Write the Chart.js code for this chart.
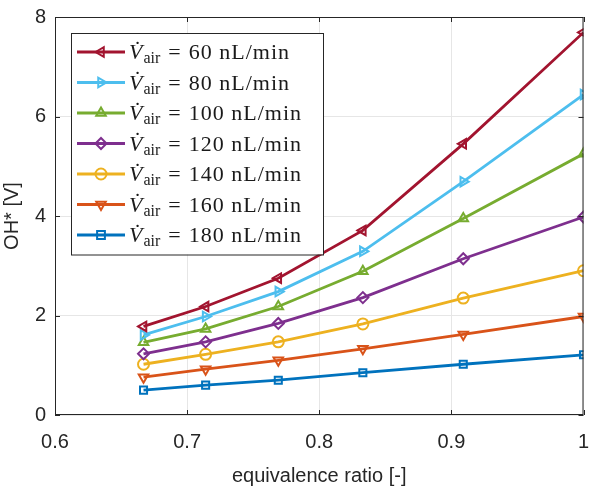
<!DOCTYPE html>
<html>
<head>
<meta charset="utf-8">
<script src="https://cdn.jsdelivr.net/npm/chart.js@4"></script>
<style>
  html, body { margin: 0; padding: 0; background: #fff; }
  #wrap { width: 591px; height: 488px; position: relative; }
</style>
</head>
<body>
<div id="wrap"><canvas id="chart"></canvas></div>
<script>
// equivalence ratio values
const ratios = [0.667, 0.714, 0.769, 0.833, 0.909, 1.0];

// air flow rates (nL/min) for the legend
const airFlows = [60, 80, 100, 120, 140, 160, 180];

// OH* signal [V] per air flow
const oh60  = [1.78, 2.18, 2.75, 3.71, 5.45, 7.69];
const oh80  = [1.61, 1.98, 2.48, 3.29, 4.69, 6.44];
const oh100 = [1.46, 1.73, 2.18, 2.89, 3.95, 5.25];
const oh120 = [1.23, 1.47, 1.84, 2.36, 3.14, 3.98];
const oh140 = [1.02, 1.22, 1.47, 1.83, 2.35, 2.90];
const oh160 = [0.76, 0.92, 1.10, 1.33, 1.62, 1.98];
const oh180 = [0.50, 0.60, 0.70, 0.85, 1.02, 1.21];

const xTicks = [0.6, 0.7, 0.8, 0.9, 1];
const yTicks = [0, 2, 4, 6, 8];

const allSeries = [oh60, oh80, oh100, oh120, oh140, oh160, oh180];

const colors = ["#A2142F", "#4DBEEE", "#77AC30", "#7E2F8E", "#EDB120", "#D95319", "#0072BD"];
const markers = [
    { style: "triangle", rot: -90 },
    { style: "triangle", rot: 90 },
    { style: "triangle", rot: 0 },
    { style: "rectRot", rot: 0 },
    { style: "circle", rot: 0 },
    { style: "triangle", rot: 180 },
    { style: "rect", rot: 0 }
];

const axisColor = "#262626";

const datasets = allSeries.map((vals, i) => ({
    label: airFlows[i] + " nL/min",
    data: vals.map((v, j) => ({ x: ratios[j], y: v })),
    borderColor: colors[i],
    backgroundColor: "transparent",
    borderWidth: 2.8,
    pointStyle: markers[i].style,
    rotation: markers[i].rot,
    pointRadius: markers[i].style === "rect" ? 5 : 5.5,
    pointBorderWidth: 2,
    pointBackgroundColor: "transparent",
    pointBorderColor: colors[i],
    tension: 0,
    order: i
}));

// axes box, inward ticks and latex-like legend
const matlabPlugin = {
    id: "matlab",
    afterDraw(chart) {
        const ctx = chart.ctx;
        const a = chart.chartArea;
        const xs = chart.scales.x;
        const ys = chart.scales.y;

        ctx.save();
        ctx.strokeStyle = axisColor;
        ctx.lineWidth = 1;
        ctx.strokeRect(a.left + 0.5, a.top + 0.5, a.right - a.left - 1, a.bottom - a.top - 1);

        const tl = 5;
        ctx.beginPath();
        xTicks.forEach(t => {
            const px = Math.round(xs.getPixelForValue(t)) + 0.5;
            ctx.moveTo(px, a.bottom); ctx.lineTo(px, a.bottom - tl);
            ctx.moveTo(px, a.top); ctx.lineTo(px, a.top + tl);
        });
        yTicks.forEach(t => {
            const py = Math.round(ys.getPixelForValue(t)) + 0.5;
            ctx.moveTo(a.left, py); ctx.lineTo(a.left + tl, py);
            ctx.moveTo(a.right, py); ctx.lineTo(a.right - tl, py);
        });
        ctx.stroke();

        // legend
        const bx = 71, by = 33, bw = 252, rowH = 30.5;
        const bh = rowH * airFlows.length + 8;
        ctx.fillStyle = "#fff";
        ctx.fillRect(bx, by, bw, bh);
        ctx.strokeStyle = axisColor;
        ctx.strokeRect(bx + 0.5, by + 0.5, bw, bh);

        airFlows.forEach((f, i) => {
            const cy = by + 19 + i * rowH;
            ctx.strokeStyle = colors[i];
            ctx.lineWidth = 2.8;
            ctx.beginPath();
            ctx.moveTo(77, cy); ctx.lineTo(125, cy);
            ctx.stroke();
            ctx.fillStyle = "transparent";
            ctx.lineWidth = 2;
            Chart.helpers.drawPoint(ctx, {
                pointStyle: markers[i].style,
                rotation: markers[i].rot,
                radius: 5.5,
                borderWidth: 2
            }, 101, cy);

            ctx.fillStyle = "#1a1a1a";
            ctx.textBaseline = "alphabetic";
            ctx.textAlign = "left";
            const base = cy + 7;
            let x = 129;
            ctx.font = "italic 22px 'Liberation Serif'";
            ctx.fillText("V\u0307", x, base);
            x += ctx.measureText("V").width + 1;
            ctx.font = "16px 'Liberation Serif'";
            ctx.fillText("air", x, base + 4);
            x += ctx.measureText("air").width + 8;
            ctx.font = "22px 'Liberation Serif'";
            ctx.fillText("=", x, base);
            x += ctx.measureText("=").width + 8;
            ctx.letterSpacing = "1px";
            ctx.fillText(f + " nL/min", x, base);
            ctx.letterSpacing = "0px";
        });
        ctx.restore();
    }
};

new Chart(document.getElementById("chart"), {
    type: "line",
    data: { datasets: datasets },
    options: {
        responsive: true,
        maintainAspectRatio: false,
        animation: false,
        layout: { padding: { top: 17, right: -4, left: 0, bottom: 0 } },
        plugins: {
            legend: { display: false },
            tooltip: { enabled: false }
        },
        scales: {
            x: {
                type: "linear",
                min: 0.6,
                max: 1,
                afterBuildTicks: s => { s.ticks = xTicks.map(v => ({ value: v })); },
                afterFit: s => {
                    s.height = 73;
                    s.paddingLeft = 0;
                    s.paddingRight = 0;
                },
                grid: { color: "#e6e6e6", drawTicks: false },
                border: { display: false },
                ticks: {
                    color: axisColor,
                    padding: 15,
                    font: { family: "'Liberation Sans'", size: 20 },
                    callback: v => String(v)
                },
                title: {
                    display: true,
                    text: "equivalence ratio [-]",
                    color: axisColor,
                    font: { family: "'Liberation Sans'", size: 20 },
                    padding: { top: 1, bottom: 0 }
                }
            },
            y: {
                min: 0,
                max: 8,
                afterBuildTicks: s => { s.ticks = yTicks.map(v => ({ value: v })); },
                afterFit: s => {
                    s.width = 55;
                    s.paddingTop = 0;
                    s.paddingBottom = 0;
                },
                grid: { color: "#e6e6e6", drawTicks: false },
                border: { display: false },
                ticks: {
                    color: axisColor,
                    padding: 9,
                    font: { family: "'Liberation Sans'", size: 20 }
                },
                title: {
                    display: true,
                    text: "OH* [V]",
                    color: axisColor,
                    font: { family: "'Liberation Sans'", size: 20 },
                    padding: { top: 0, bottom: 2 }
                }
            }
        }
    },
    plugins: [matlabPlugin]
});
</script>
</body>
</html>
